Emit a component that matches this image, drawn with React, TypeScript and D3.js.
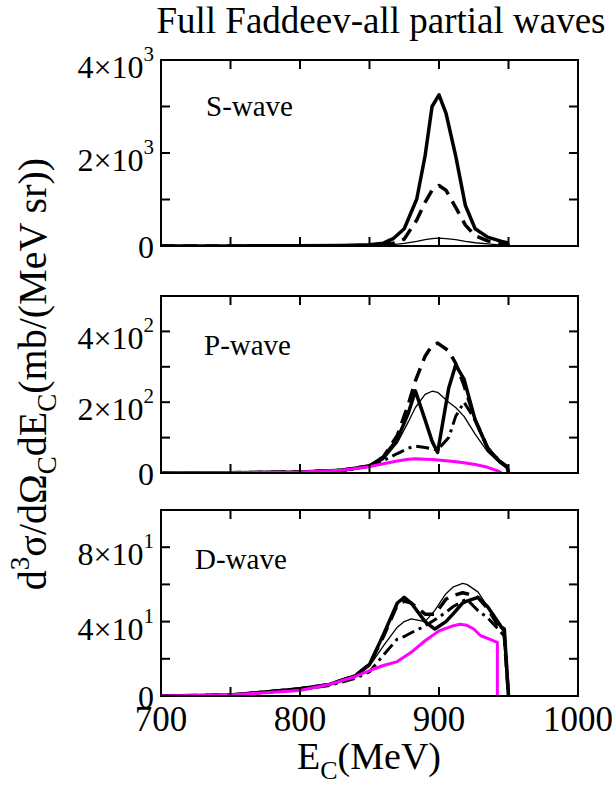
import React from 'react';
import * as d3 from 'd3';

// x axis (shared)
const xTicksMajor = [700, 800, 900, 1000];
const xTicksMinor = [750, 850, 950];

// S-wave panel
const sE = [700, 750, 800, 830, 850, 860, 867, 875, 884, 890, 895, 900, 905, 912, 919, 926, 935, 945, 949, 950];
const sFull = [0, 2, 5, 10, 25, 60, 157, 370, 1010, 1940, 3000, 3250, 2860, 1940, 870, 370, 190, 100, 70, 0];
const sDashed = [0, 1, 2, 4, 10, 25, 60, 150, 560, 940, 1200, 1300, 1200, 830, 450, 220, 110, 50, 20, 0];
const sThin = [0, 0, 1, 3, 8, 15, 30, 55, 100, 135, 160, 170, 160, 135, 100, 70, 45, 20, 10, 0];

// P-wave panel
const pE = [700, 750, 800, 830, 850, 860, 870, 878, 883, 890, 895, 899, 907, 912, 918, 926, 935, 943, 949, 950];
const pFull = [0, 1, 3, 8, 20, 45, 95, 170, 232, 150, 90, 58, 240, 305, 265, 150, 70, 35, 18, 0];
const pDashed = [0, 1, 3, 8, 20, 45, 106, 195, 260, 330, 360, 367, 345, 310, 248, 150, 71, 35, 18, 0];
const pThin = [0, 1, 3, 7, 18, 38, 85, 145, 185, 222, 231, 228, 200, 185, 160, 110, 60, 30, 12, 0];
const pDashDot = [0, 1, 3, 7, 18, 35, 55, 70, 76, 72, 68, 65, 100, 160, 200, 150, 70, 35, 18, 0];
const pMagentaE = [700, 750, 800, 830, 850, 860, 870, 878, 883, 890, 895, 899, 907, 912, 918, 926, 935, 943, 945];
const pMagenta = [0, 1, 3, 8, 18, 26, 34, 39, 40, 39, 38, 37, 34, 32, 29, 24, 16, 5, 0];

// D-wave panel
const dE = [700, 750, 800, 820, 840, 850, 860, 870, 875, 880, 890, 897, 905, 910, 917, 920, 928, 935, 945, 947, 950];
const dFull = [0, 0.5, 3.9, 6, 11, 17, 33, 50, 53, 50, 40, 36, 40, 44, 50, 51, 53, 48, 37, 36, 0];
const dThin = [0, 0.5, 3.9, 6, 11, 16, 27, 37, 40, 41.5, 40, 46, 55, 58.5, 60.5, 60, 56, 48, 36, 34, 0];
const dDashed = [0, 0.5, 3.9, 6, 11, 17, 32, 49, 51, 50, 44, 44, 52, 54, 55.5, 55, 53, 47, 35, 32, 0];
const dDashDot = [0, 0.5, 3.5, 5.5, 9.5, 13, 22, 30.6, 32, 34, 37.7, 41, 45, 48, 51, 52, 46, 42, 34, 32, 0];
const dMagentaE = [700, 750, 800, 820, 840, 850, 860, 870, 880, 890, 900, 910, 915, 920, 925, 930, 935, 938, 942, 942];
const dMagenta = [0, 0.5, 3, 6, 10.5, 13.7, 16.4, 18.5, 23.5, 29.7, 35, 37.7, 38.6, 38, 36, 32.4, 31, 30, 28.8, 0];

const FONT = '"Liberation Serif", "Times New Roman", serif';
const left = 161;
const right = 578;

type Series = { x: number[]; y: number[]; width: number; color: string; dash?: string };

const styles = {
  full: { width: 3.5, color: '#000' },
  dashed: { width: 3.5, color: '#000', dash: '14 8' },
  thin: { width: 1.3, color: '#000' },
  dashDot: { width: 3, color: '#000', dash: '13 5 3 5' },
  magenta: { width: 3, color: '#ff00ff' },
};

const panels = [
  {
    label: 'S-wave', top: 60, bottom: 246, max: 4000, exp: 3,
    major: [0, 2000, 4000], minor: [1000, 3000],
    labelX: 206, labelY: 116,
    series: [
      { x: sE, y: sThin, ...styles.thin },
      { x: sE, y: sDashed, ...styles.dashed },
      { x: sE, y: sFull, ...styles.full },
    ] as Series[],
  },
  {
    label: 'P-wave', top: 296, bottom: 473, max: 500, exp: 2,
    major: [0, 200, 400], minor: [100, 300],
    labelX: 204, labelY: 355,
    series: [
      { x: pE, y: pThin, ...styles.thin },
      { x: pE, y: pDashDot, ...styles.dashDot },
      { x: pE, y: pDashed, ...styles.dashed },
      { x: pE, y: pFull, ...styles.full },
      { x: pMagentaE, y: pMagenta, ...styles.magenta },
    ] as Series[],
  },
  {
    label: 'D-wave', top: 510, bottom: 696, max: 100, exp: 1,
    major: [0, 40, 80], minor: [20, 60],
    labelX: 195, labelY: 569,
    series: [
      { x: dE, y: dThin, ...styles.thin },
      { x: dE, y: dDashDot, ...styles.dashDot },
      { x: dE, y: dDashed, ...styles.dashed },
      { x: dE, y: dFull, ...styles.full },
      { x: dMagentaE, y: dMagenta, ...styles.magenta },
    ] as Series[],
  },
];

const App = () => {
  const xScale = d3.scaleLinear().domain([700, 1000]).range([left, right]);
  const tick = 9;

  return (
    <svg width={616} height={785} style={{ display: 'block', position: 'absolute', left: 0, top: 0 }}>
      <rect width={616} height={785} fill="#fff" />
      <text x={381} y={33} fontFamily={FONT} fontSize={37} textAnchor="middle">
        Full Faddeev-all partial waves
      </text>

      {panels.map((p, pi) => {
        const yScale = d3.scaleLinear().domain([0, p.max]).range([p.bottom, p.top]);
        const line = d3.line<[number, number]>()
          .x(d => xScale(d[0]))
          .y(d => yScale(d[1]));
        const unit = Math.pow(10, p.exp);
        return (
          <g key={p.label}>
            <defs>
              <clipPath id={`clip${pi}`}>
                <rect x={left} y={p.top} width={right - left} height={p.bottom - p.top} />
              </clipPath>
            </defs>
            <g clipPath={`url(#clip${pi})`}>
              {p.series.map((s, si) => (
                <path
                  key={si}
                  d={line(s.x.map((xv, i) => [xv, s.y[i]] as [number, number])) || ''}
                  fill="none"
                  stroke={s.color}
                  strokeWidth={s.width}
                  strokeDasharray={s.dash}
                  strokeLinejoin="round"
                />
              ))}
            </g>
            <rect x={left} y={p.top} width={right - left} height={p.bottom - p.top}
              fill="none" stroke="#000" strokeWidth={2} />
            {/* x ticks, top and bottom */}
            {[...xTicksMajor, ...xTicksMinor].map(v => (
              <g key={v}>
                <line x1={xScale(v)} x2={xScale(v)} y1={p.bottom} y2={p.bottom - tick} stroke="#000" strokeWidth={2} />
                <line x1={xScale(v)} x2={xScale(v)} y1={p.top} y2={p.top + tick} stroke="#000" strokeWidth={2} />
              </g>
            ))}
            {/* y ticks, left and right */}
            {[...p.major, ...p.minor].map(v => (
              <g key={v}>
                <line x1={left} x2={left + tick} y1={yScale(v)} y2={yScale(v)} stroke="#000" strokeWidth={2} />
                <line x1={right} x2={right - tick} y1={yScale(v)} y2={yScale(v)} stroke="#000" strokeWidth={2} />
              </g>
            ))}
            {p.major.map(v => (
              <text key={v} x={left - 7} y={yScale(v) + (v === 0 ? 12 : 18)} fontFamily={FONT} fontSize={32} textAnchor="end">
                {v === 0 ? '0' : (
                  <>
                    {`${v / unit}×10`}
                    <tspan fontSize={21} dy={-17}>{p.exp}</tspan>
                  </>
                )}
              </text>
            ))}
            <text x={p.labelX} y={p.labelY} fontFamily={FONT} fontSize={29}>{p.label}</text>
          </g>
        );
      })}

      {xTicksMajor.map(v => (
        <text key={v} x={xScale(v)} y={731} fontFamily={FONT} fontSize={35} textAnchor="middle">{v}</text>
      ))}
      <text x={369} y={769} fontFamily={FONT} fontSize={38} textAnchor="middle">
        E<tspan fontSize={26} dy={10}>C</tspan><tspan dy={-10}>(MeV)</tspan>
      </text>
      <text transform="translate(46,374) rotate(-90)" fontFamily={FONT} fontSize={40} textAnchor="middle">
        d<tspan fontSize={27} dy={-17}>3</tspan>
        <tspan dy={17}>σ/dΩ</tspan>
        <tspan fontSize={27} dy={10}>C</tspan>
        <tspan dy={-10}>dE</tspan>
        <tspan fontSize={27} dy={10}>C</tspan>
        <tspan dy={-10}>(mb/(MeV sr))</tspan>
      </text>
    </svg>
  );
};

export default App;
